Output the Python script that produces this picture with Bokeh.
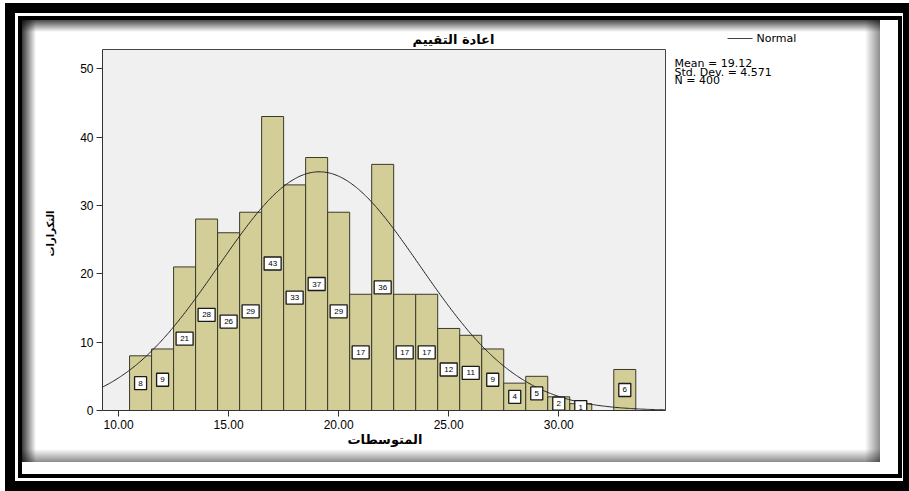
import numpy as np
from bokeh.plotting import figure
from bokeh.models import (ColumnDataSource, FixedTicker, PrintfTickFormatter,
                          Range1d, Label, BoxAnnotation, Title)
from bokeh.core.properties import value
from bokeh.embed import file_html
from bokeh.resources import INLINE

# ---------------- data ----------------
bin_starts = [10.5, 11.5, 12.5, 13.5, 14.5, 15.5, 16.5, 17.5, 18.5, 19.5, 20.5, 21.5,
              22.5, 23.5, 24.5, 25.5, 26.5, 27.5, 28.5, 29.5, 30.5, 31.5, 32.5]
counts = [8, 9, 21, 28, 26, 29, 43, 33, 37, 29, 17, 36, 17, 17, 12, 11, 9, 4, 5, 2, 1, 0, 6]
bin_width = 1.0
mean_val = 19.12
std_val = 4.571
n_val = 400
x_min, x_max = 9.27, 34.85      # plotted x extent of the histogram area
y_max = 52.8                     # plotted y extent of the histogram area
x_ticks = [10, 15, 20, 25, 30]
y_ticks = [0, 10, 20, 30, 40, 50]
title_text = "اعادة التقييم"
x_label = "المتوسطات"
y_label = "التكرارات"
stats_lines = ["Mean = 19.12", "Std. Dev. = 4.571", "N = 400"]
legend_text = "Normal"

# ---------------- figure ----------------
W, H = 909, 491
FL, FR, FT, FB = 102, 880, 26, 410          # frame box in page pixels
AREA_R, AREA_T = 665, 49                     # histogram area right / top in page pixels
px_x = (AREA_R - FL) / (x_max - x_min)
px_y = (FB - AREA_T) / y_max
x_end = x_min + (FR - FL) / px_x
y_end = (FB - FT) / px_y

p = figure(width=W, height=H, output_backend="svg", toolbar_location=None,
           x_range=Range1d(x_min, x_end), y_range=Range1d(0, y_end),
           min_border_left=FL, min_border_right=W - FR, min_border_top=FT,
           min_border_bottom=H - FB)
p.border_fill_color = None
p.background_fill_color = None
p.outline_line_color = None
p.xgrid.visible = False
p.ygrid.visible = False
p.title.visible = False

# page decorations (black double frame and soft shadow) as CSS backgrounds
def rect_layer(x, y, w, h, img="linear-gradient(#000,#000)"):
    return f"{img} {x}px {y}px / {w}px {h}px no-repeat"

layers = [
    rect_layer(22, 20, 14, 442, "linear-gradient(to right, rgba(0,0,0,0.78), rgba(0,0,0,0))"),
    rect_layer(22, 20, 858, 12, "linear-gradient(to bottom, rgba(0,0,0,0.72), rgba(0,0,0,0))"),
    rect_layer(22, 449, 858, 13, "linear-gradient(to bottom, rgba(0,0,0,0), rgba(0,0,0,0.45))"),
    rect_layer(865, 20, 15, 442, "linear-gradient(to right, rgba(0,0,0,0), rgba(0,0,0,0.45))"),
    rect_layer(18, 16, 884, 4), rect_layer(18, 474, 884, 4),
    rect_layer(18, 16, 4, 462), rect_layer(898, 16, 4, 462),
    rect_layer(5, 3, 904, 10), rect_layer(5, 481, 904, 10),
    rect_layer(5, 3, 10, 488), rect_layer(903, 3, 6, 488),
]
p.styles = {"background": ", ".join(layers) + ", #ffffff"}

# histogram area background and outline
p.quad(left=[x_min], right=[x_max], bottom=[0], top=[y_max],
       fill_color="#f0f0f0", line_color="#444444", line_width=1)

# bars
lefts = [s for s, c in zip(bin_starts, counts) if c > 0]
tops = [c for c in counts if c > 0]
src = ColumnDataSource(dict(
    left=lefts,
    right=[l + bin_width for l in lefts],
    top=tops,
    xc=[l + bin_width / 2 for l in lefts],
    yc=[t / 2 for t in tops],
    txt=[str(t) for t in tops],
    bw=[17 if t >= 10 else 12 for t in tops],
))
p.quad(left="left", right="right", bottom=0, top="top", source=src,
       fill_color="#d3cd98", line_color="#3a3a2c", line_width=1)

# normal curve
xs = np.linspace(x_min, x_max, 500)
ys = n_val * bin_width * np.exp(-(xs - mean_val) ** 2 / (2 * std_val ** 2)) / (std_val * np.sqrt(2 * np.pi))
p.line(xs, ys, line_color="#222222", line_width=1)

# value boxes
p.rect(x="xc", y="yc", width="bw", height=13, width_units="screen", height_units="screen",
       source=src, fill_color="white", line_color="#1a1a1a", line_width=1.3)
p.text(x="xc", y="yc", text="txt", source=src, text_font=value("Liberation Sans"),
       text_font_size="8px", text_align="center", text_baseline="middle", text_color="black")

# axes
for ax in (p.xaxis[0], p.yaxis[0]):
    ax.major_tick_out = 6
    ax.major_tick_in = 0
    ax.minor_tick_out = 0
    ax.minor_tick_in = 0
    ax.axis_line_color = "#333333"
    ax.major_tick_line_color = "#333333"
    ax.major_label_text_font = "Liberation Sans"
    ax.major_label_text_font_size = "12px"
    ax.major_label_text_color = "black"
    ax.major_label_standoff = 3
p.xaxis.ticker = FixedTicker(ticks=x_ticks)
p.xaxis.formatter = PrintfTickFormatter(format="%.2f")
p.xaxis.bounds = (x_min, x_max)
p.yaxis.ticker = FixedTicker(ticks=y_ticks)
p.yaxis.bounds = (0, y_max)

# axis titles placed on the histogram area
xt = Title(text=x_label, align="left", offset=245, standoff=0, vertical_align="top",
           text_font="DejaVu Sans", text_font_size="13px", text_font_style="bold",
           text_color="black")
p.add_layout(xt, "below")
yt = Title(text=y_label, align="left", offset=154, standoff=40, vertical_align="top",
           text_font="DejaVu Sans", text_font_size="10px", text_font_style="bold",
           text_color="black")
p.add_layout(yt, "left")

# texts inside the frame (page coordinates -> frame-relative screen units)
def label(x, y, text, size, font="DejaVu Sans", align="left", style="normal"):
    p.add_layout(Label(x=x - FL, y=FB - y, x_units="screen", y_units="screen", text=text,
                       text_font=font, text_font_size=size, text_align=align,
                       text_baseline="middle", text_font_style=style, text_color="black"))

label(453, 39, title_text, "13px", align="center", style="bold")
p.add_layout(BoxAnnotation(left=727 - FL, right=752 - FL, top=FB - 37.5, bottom=FB - 38.5,
                           left_units="screen", right_units="screen",
                           top_units="screen", bottom_units="screen",
                           fill_color="#444444", fill_alpha=1, line_color=None))
label(756, 38, legend_text, "11px")
for i, s in enumerate(stats_lines):
    label(674, 63 + 8.7 * i, s, "11px")

open("out.html", "w").write(file_html(p, INLINE))
